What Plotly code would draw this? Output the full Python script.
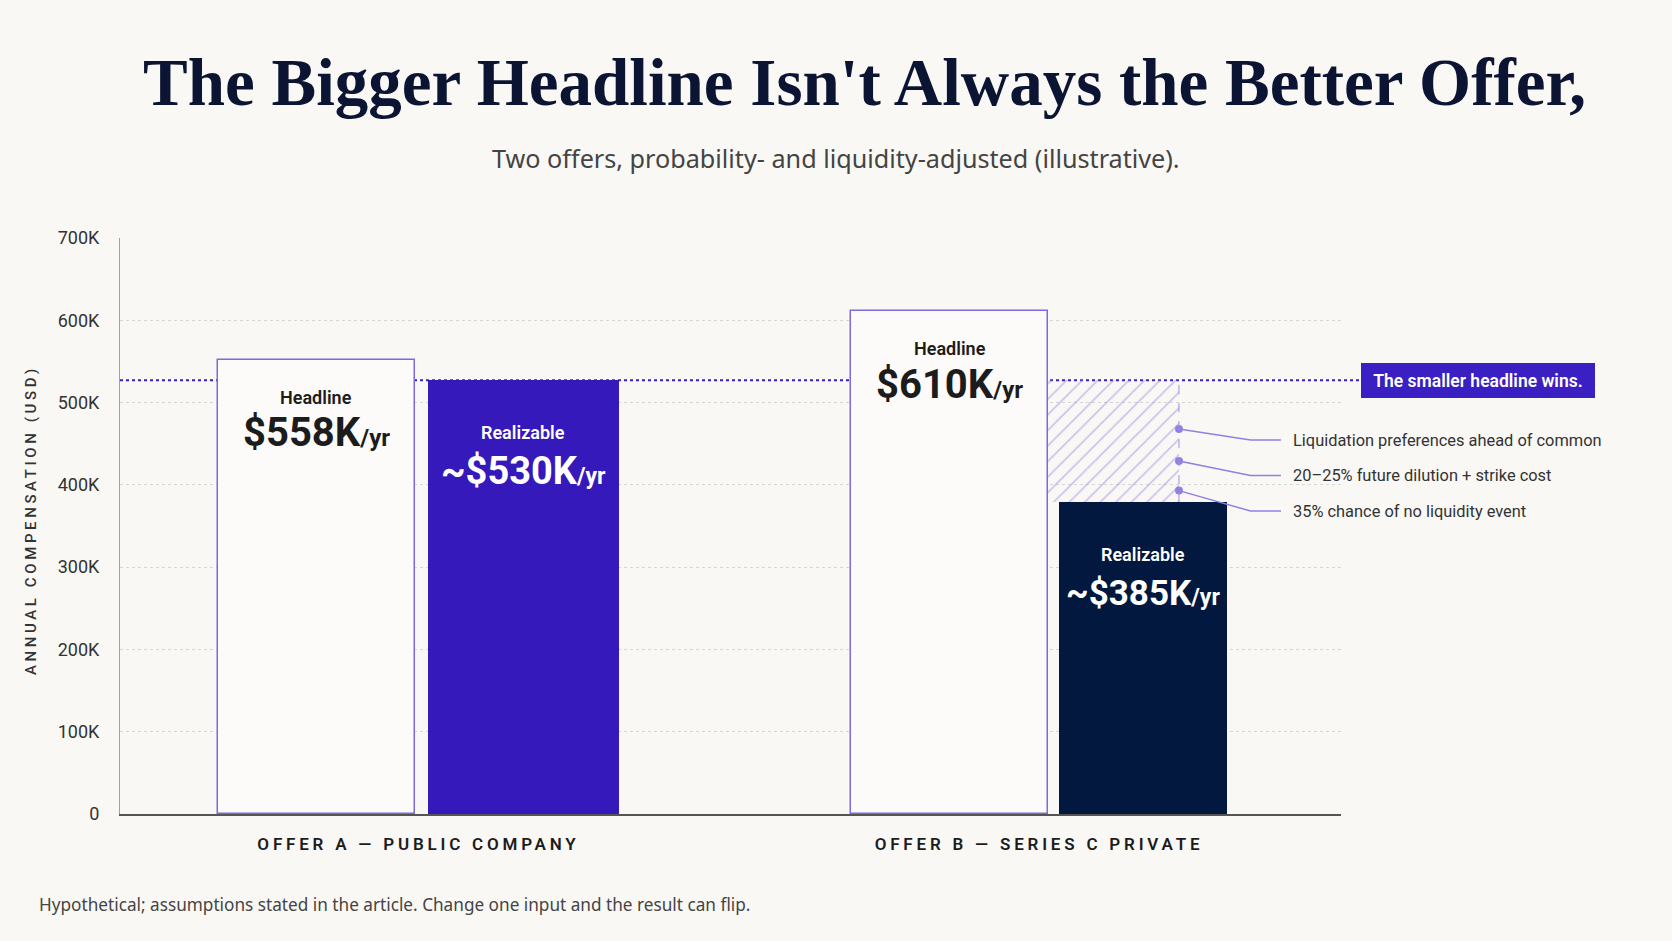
import plotly.graph_objects as go

# ---------------- data ----------------
categories = ["OFFER A — PUBLIC COMPANY", "OFFER B — SERIES C PRIVATE"]
headline_k = [552, 611]          # bar heights as drawn (K USD)
realizable_k = [527, 379]
headline_labels = ["$558K", "$610K"]
realizable_labels = ["~$530K", "~$385K"]
threshold_k = 527                # dotted "smaller headline wins" line
haircut_factors = [
    "Liquidation preferences ahead of common",
    "20–25% future dilution + strike cost",
    "35% chance of no liquidity event",
]
haircut_points_k = [468, 429, 393]
y_tick_vals_k = [0, 100, 200, 300, 400, 500, 600, 700]
y_tick_text = ["0", "100K", "200K", "300K", "400K", "500K", "600K", "700K"]

# ---------------- layout constants ----------------
W, H = 1672, 941
L, R, T, B = 120, 331, 238, 127
PW, PH = W - L - R, H - T - B
YMAX = 700000
XMIN, XMAX = -0.481, 1.4867

BG = "#f9f8f5"
BAR_BG = "#fcfbf9"
OUTLINE = "#7c6ae0"
INDIGO = "#3519bb"
NAVY = "#02183e"
ACCENT = "#3a20c2"
LIGHT = "#8f80e2"
TXT = "#1c1c1c"
SANS = "Roboto, Inter, Liberation Sans, sans-serif"
BODY = "Noto Sans, Open Sans, sans-serif"
SERIF = "Liberation Serif, DejaVu Serif, serif"

head_off = [-0.3231, -0.3030]
head_w = [0.3175, 0.3183]
real_off = [0.0148, 0.0322]
real_w = [0.3083, 0.2712]
hatch_off, hatch_w = 0.0153, 0.2103
head_num_size = [40, 40]
real_num_size = [38, 35]


def xp(px):
    return (px - L) / PW


def yp(py):
    return (H - B - py) / PH


def dx(px):
    return XMIN + (px - L) / PW * (XMAX - XMIN)


def dy(py):
    return (H - B - py) / PH * YMAX


xs = list(range(len(categories)))
fig = go.Figure()

# headline bars
fig.add_trace(go.Bar(
    x=xs, y=[v * 1000 for v in headline_k], width=head_w, offset=head_off,
    marker=dict(color=BAR_BG, line=dict(color=OUTLINE, width=1.5)),
    hoverinfo="skip", showlegend=False))

# hatched haircut area on offer B
fig.add_trace(go.Bar(
    x=[xs[1]], y=[(threshold_k - realizable_k[1]) * 1000], base=[realizable_k[1] * 1000],
    width=[hatch_w], offset=[hatch_off],
    marker=dict(color="rgba(0,0,0,0)", line=dict(width=0),
                pattern=dict(shape="/", fgcolor="#9a8be5", bgcolor="rgba(0,0,0,0)",
                             size=11, solidity=0.15, fillmode="overlay")),
    hoverinfo="skip", showlegend=False))

# realizable bars
fig.add_trace(go.Bar(
    x=xs, y=[v * 1000 for v in realizable_k], width=real_w, offset=real_off,
    marker=dict(color=[INDIGO, NAVY], line=dict(width=0)),
    hoverinfo="skip", showlegend=False))

xv = xs[1] + hatch_off + hatch_w
shapes = [
    dict(type="line", xref="paper", yref="paper", x0=0, x1=xp(1361),
         y0=threshold_k * 1000 / YMAX, y1=threshold_k * 1000 / YMAX,
         line=dict(color=ACCENT, width=2, dash="dot"), layer="below"),
    dict(type="line", xref="x", yref="y", x0=xv, x1=xv,
         y0=realizable_k[1] * 1000, y1=threshold_k * 1000,
         line=dict(color="#9d90e8", width=1, dash="dash"), layer="above"),
]

label_py = [440, 475.5, 511]
annotations = []
for pt, lpy, txt in zip(haircut_points_k, label_py, haircut_factors):
    shapes.append(dict(type="path", xref="x", yref="y",
                       path=f"M {xv},{pt * 1000} L {dx(1250.5)},{dy(lpy)} L {dx(1281)},{dy(lpy)}",
                       line=dict(color=LIGHT, width=1.5)))
    annotations.append(dict(xref="paper", yref="paper", x=xp(1291), y=yp(lpy),
                            xanchor="left", yanchor="middle", showarrow=False, text=txt,
                            font=dict(family=SANS, size=16.4, color="#333333")))

fig.add_trace(go.Scatter(
    x=[xv] * len(haircut_points_k), y=[v * 1000 for v in haircut_points_k],
    mode="markers", marker=dict(color=LIGHT, size=8), hoverinfo="skip",
    showlegend=False, cliponaxis=False))

# bar labels
for i in xs:
    cx = i + head_off[i] + head_w[i] / 2
    annotations.append(dict(xref="x", yref="y", x=cx, y=headline_k[i] * 1000, yshift=-37.5,
                            text="Headline", showarrow=False, yanchor="middle",
                            font=dict(family=SANS, size=18, color=TXT, weight=600)))
    annotations.append(dict(xref="x", yref="y", x=cx, y=headline_k[i] * 1000, yshift=-73,
                            text=f"{headline_labels[i]}<span style='font-size:24px'>/yr</span>",
                            showarrow=False, yanchor="middle",
                            font=dict(family=SANS, size=head_num_size[i], color=TXT, weight=700)))
    rx = i + real_off[i] + real_w[i] / 2
    annotations.append(dict(xref="x", yref="y", x=rx, y=realizable_k[i] * 1000, yshift=-52,
                            text="Realizable", showarrow=False, yanchor="middle",
                            font=dict(family=SANS, size=18, color="#ffffff", weight=600)))
    annotations.append(dict(xref="x", yref="y", x=rx, y=realizable_k[i] * 1000, yshift=-91,
                            text=f"{realizable_labels[i]}<span style='font-size:23px'>/yr</span>",
                            showarrow=False, yanchor="middle",
                            font=dict(family=SANS, size=real_num_size[i], color="#ffffff", weight=700)))

# callout box
annotations.append(dict(xref="paper", yref="paper", x=xp(1478), y=threshold_k * 1000 / YMAX,
                        text="The smaller headline wins.", showarrow=False,
                        xanchor="center", yanchor="middle", bgcolor=ACCENT, bordercolor=ACCENT,
                        borderwidth=1, borderpad=6, width=220, height=21,
                        font=dict(family=SANS, size=17.5, color="#ffffff", weight=600)))

# title, subtitle, y-title, footnote
annotations += [
    dict(xref="paper", yref="paper", x=xp(864), y=yp(82), showarrow=False,
         xanchor="center", yanchor="middle",
         text="<b>The Bigger Headline Isn't Always the Better Offer,</b>",
         font=dict(family=SERIF, size=67, color="#0b1533")),
    dict(xref="paper", yref="paper", x=xp(836), y=yp(158), showarrow=False,
         xanchor="center", yanchor="middle",
         text="Two offers, probability- and liquidity-adjusted (illustrative).",
         font=dict(family=BODY, size=25.2, color="#444444")),
    dict(xref="paper", yref="paper", x=xp(31), y=yp(520), showarrow=False, textangle=-90,
         xanchor="center", yanchor="middle",
         text="<span style='letter-spacing:3.6px'>ANNUAL COMPENSATION (USD)</span>",
         font=dict(family=SANS, size=15, color="#333333", weight=500)),
    dict(xref="paper", yref="paper", x=xp(37), y=yp(904), xanchor="left", yanchor="middle",
         showarrow=False,
         text="Hypothetical; assumptions stated in the article. Change one input and the result can flip.",
         font=dict(family=BODY, size=17.2, color="#444444")),
]

fig.update_layout(
    width=W, height=H, margin=dict(l=L, r=R, t=T, b=B, autoexpand=False),
    paper_bgcolor=BG, plot_bgcolor=BG, barmode="overlay", bargap=0,
    shapes=shapes, annotations=annotations, showlegend=False,
    xaxis=dict(range=[XMIN, XMAX], tickvals=xs,
               ticktext=[f"<span style='letter-spacing:3.8px'>{c}</span>" for c in categories],
               tickfont=dict(family=SANS, size=17, color="#1c1c1c", weight=600),
               showgrid=False, zeroline=False, showline=True, linecolor="#555555", linewidth=2,
               ticks="", ticklabelstandoff=14, fixedrange=True),
    yaxis=dict(range=[0, YMAX], tickvals=[v * 1000 for v in y_tick_vals_k], ticktext=y_tick_text,
               tickfont=dict(family=SANS, size=18, color="#333333"),
               showgrid=True, gridcolor="#d6d6d6", griddash="dot", gridwidth=1,
               zeroline=False, showline=True, linecolor="#a0a0a0", linewidth=1,
               ticks="", ticklabelstandoff=16, fixedrange=True),
)

fig.write_html("out.html", config={"displayModeBar": False})
